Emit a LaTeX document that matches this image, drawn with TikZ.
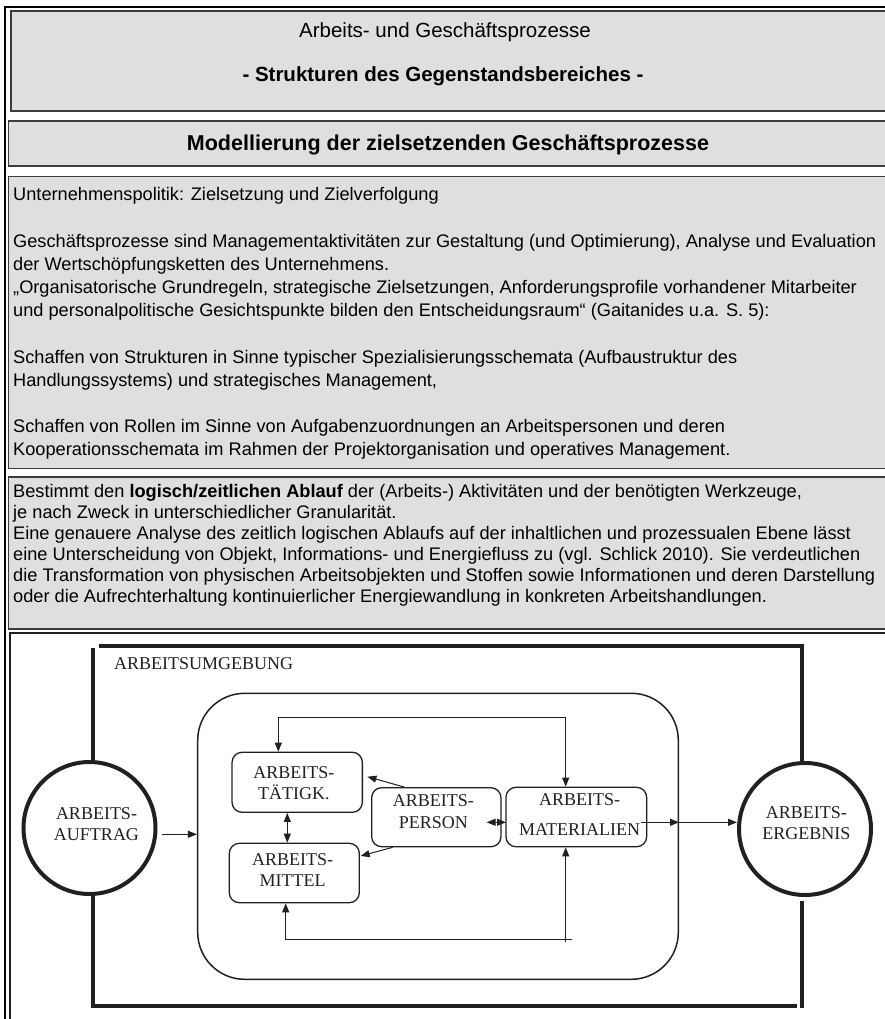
\documentclass[tikz,border=0pt]{standalone}
\usepackage{fontspec}
\newfontfamily\bodyfont{Liberation Sans}
\newfontfamily\diafont{Liberation Serif}
\usetikzlibrary{arrows.meta,calc}
\definecolor{cellgray}{RGB}{223,223,223}
\definecolor{cellline}{RGB}{60,60,60}
\definecolor{ink}{RGB}{35,31,32}

\begin{document}
\begin{tikzpicture}[x=1pt,y=-1pt,
  cell/.style={fill=cellgray,draw=cellline,line width=1.3pt},
  para/.style={anchor=base west,inner sep=0,font=\bodyfont\fontsize{18.2}{22}\selectfont},
  head/.style={anchor=base,inner sep=0,font=\bodyfont\fontsize{20.5}{23}\selectfont},
  boldhead/.style={anchor=base,inner sep=0,font=\bodyfont\fontsize{#1}{23}\bfseries\selectfont},
  circ/.style={circle,draw=ink,line width=4pt,minimum size=132pt,inner sep=0},
  sysbox/.style={rectangle,rounded corners=47pt,draw=ink,line width=1.5pt,inner sep=0},
  unit/.style={rectangle,rounded corners=10pt,draw=ink,line width=1.3pt,inner sep=0},
  lbl/.style={align=center,inner sep=0,text=ink,font=\diafont\fontsize{18}{#1}\selectfont},
  env/.style={draw=ink,line width=3.5pt},
  conn/.style={draw=ink,line width=1pt},
  tip/.tip={Triangle[length=9pt,width=7pt]},
]
\useasboundingbox (0,0) rectangle (884,1019);

% page frame
\draw[line width=2.2pt,black] (5.2,1025) -- (5.2,7.2) -- (890,7.2);

% table cells
\path[cell] (11,11) rectangle (890,111);
\path[cell] (8.5,121) rectangle (890,166);
\path[cell] (8.5,176.5) rectangle (890,468.5);
\path[cell] (8.5,477) rectangle (890,629);
\draw[line width=1.3pt,draw=ink] (10,1025) -- (10,633) -- (890,633);

% headings
\node[head] (t1) at (445,37.5) {Arbeits- und Geschäftsprozesse};
\node[boldhead=20.5] (t2) at (443,81.5) {- Strukturen des Gegenstandsbereiches -};
\node[boldhead=21.5] (t3) at (448,150.5) {Modellierung der zielsetzenden Geschäftsprozesse};

% goal-setting text
\node[para] (p1) at (13,200.7) {Unternehmenspolitik: Zielsetzung und Zielverfolgung};
\node[para] (p2) at (13,247.3) {Geschäftsprozesse sind Managementaktivitäten zur Gestaltung (und Optimierung), Analyse und Evaluation};
\node[para] (p3) at (13,270) {der Wertschöpfungsketten des Unternehmens.};
\node[para] (p4) at (13,293.3) {„Organisatorische Grundregeln, strategische Zielsetzungen, Anforderungsprofile vorhandener Mitarbeiter};
\node[para] (p5) at (13,316) {und personalpolitische Gesichtspunkte bilden den Entscheidungsraum“ (Gaitanides u.a. S. 5):};
\node[para] (p6) at (13,363.3) {Schaffen von Strukturen in Sinne typischer Spezialisierungsschemata (Aufbaustruktur des};
\node[para] (p7) at (13,386) {Handlungssystems) und strategisches Management,};
\node[para] (p8) at (13,432.7) {Schaffen von Rollen im Sinne von Aufgabenzuordnungen an Arbeitspersonen und deren};
\node[para] (p9) at (13,455.7) {Kooperationsschemata im Rahmen der Projektorganisation und operatives Management.};

% process flow text
\node[para] (q1) at (13,497) {Bestimmt den \textbf{logisch/zeitlichen Ablauf} der (Arbeits-) Aktivitäten und der benötigten Werkzeuge,};
\node[para] (q2) at (13,518) {je nach Zweck in unterschiedlicher Granularität.};
\node[para] (q3) at (13,539) {Eine genauere Analyse des zeitlich logischen Ablaufs auf der inhaltlichen und prozessualen Ebene lässt};
\node[para] (q4) at (13,560) {eine Unterscheidung von Objekt, Informations- und Energiefluss zu (vgl. Schlick 2010). Sie verdeutlichen};
\node[para] (q5) at (13,581) {die Transformation von physischen Arbeitsobjekten und Stoffen sowie Informationen und deren Darstellung};
\node[para] (q6) at (13,602) {oder die Aufrechterhaltung kontinuierlicher Energiewandlung in konkreten Arbeitshandlungen.};

% work system diagram
\node[circ] (auftrag) at (89.5,828) {};
\node[circ] (ergebnis) at (805,829) {};
\node[sysbox,minimum width=480.6pt,minimum height=286pt] (sys) at (438,836.3) {};
\node[unit,minimum width=130.3pt,minimum height=60pt] (taet) at (297.2,782.3) {};
\node[unit,minimum width=130pt,minimum height=59.4pt] (mittel) at (294.3,873) {};
\node[unit,minimum width=129.3pt,minimum height=59pt] (person) at (436.3,817.2) {};
\node[unit,minimum width=140.7pt,minimum height=59.4pt] (mat) at (576.3,817) {};

\node[anchor=base west,inner sep=0,text=ink,font=\diafont\fontsize{18}{21}\selectfont] (umg) at (114,669.5) {ARBEITSUMGEBUNG};
\node[lbl=21] (lAuf) at (96.5,824.5) {ARBEITS-\\AUFTRAG};
\node[lbl=21.3] (lErg) at (806.4,823.3) {ARBEITS-\\ERGEBNIS};
\node[lbl=20.6] (lTaet) at (293.8,783) {ARBEITS-\\TÄTIGK.};
\node[lbl=20.7] (lMit) at (292.5,869.7) {ARBEITS-\\MITTEL};
\node[lbl=21.3] (lPer) at (433.4,811.7) {ARBEITS-\\PERSON};
\node[lbl=30] (lMat) at (579.6,815) {ARBEITS-\\MATERIALIEN};

% environment frame
\coordinate (eTL) at (93,648);
\coordinate (eTop) at (99,646);
\coordinate (eTR) at (802,646);
\coordinate (eBL) at (93,1006);
\coordinate (eBR) at (797,1006);
\coordinate (eRB) at (802,1007.5);
\draw[env] (eTL) -- (eTL |- auftrag.north);
\draw[env] (auftrag.south -| eTL) -- (eBL) -- (eBR);
\draw[env] (eTop) -- (eTR) -- (eTR |- ergebnis.north);
\draw[env] ($(ergebnis.south -| eTR)+(0,4)$) -- (eRB);

% flows
\coordinate (a1) at ($(auftrag.east)+(4.5,6.3)$);
\draw[conn,-tip] (a1) -- (a1 -| sys.west);

\coordinate (tl) at (278.3,717.7);
\coordinate (tr) at (565.7,717.7);
\draw[conn,tip-tip] (taet.north -| tl) -- (tl) -- (tr) -- (tr |- mat.north);

\coordinate (bl) at (285.7,939.3);
\coordinate (br) at (565.7,939.3);
\draw[conn,tip-tip] (mittel.south -| bl) -- (bl) -- (br) -- (br |- mat.south);
\draw[conn] (br) -- ($(br)+(6,0)$);
\draw[conn] (br) -- ($(br)+(0,2.5)$);

\draw[conn,tip-tip] ($(taet.south)+(-9.9,0)$) -- ($(mittel.north)+(-7,0)$);
\draw[conn,-tip] ($(person.north west)+(33.3,0)$) -- ($(taet.east)+(4.4,-5.6)$);
\draw[conn,-tip] ($(person.south west)+(21.6,0)$) -- ($(mittel.east)+(0.7,-17)$);
\draw[conn,tip-tip] ($(person.east)+(-15,5.1)$) -- ($(mat.west)+(0.7,5.3)$);

\coordinate (m1) at ($(mat.east)+(-6.7,5.3)$);
\draw[conn,-tip] (m1) -- (m1 -| sys.east);
\draw[conn,-tip] (m1 -| sys.east) -- (m1 -| ergebnis.west);
\end{tikzpicture}
\end{document}
